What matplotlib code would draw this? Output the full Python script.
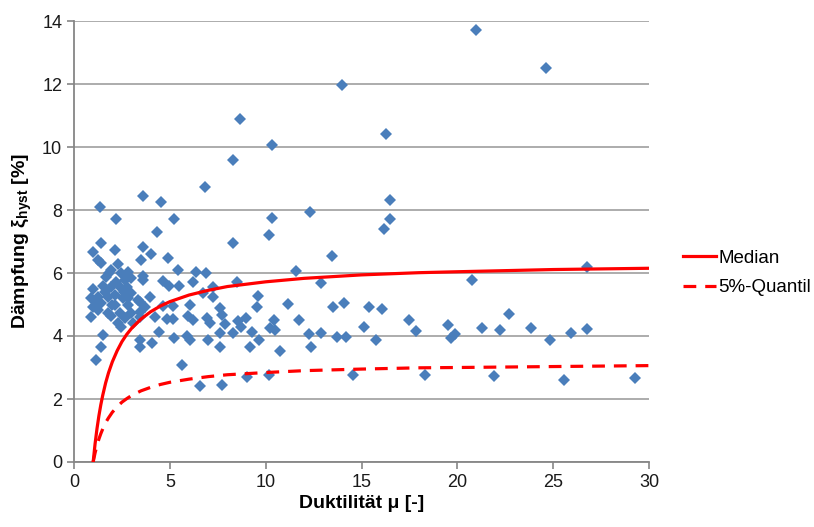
import numpy as np
import matplotlib
matplotlib.use("Agg")
import matplotlib.pyplot as plt

plt.rcParams['font.family'] = ['Liberation Sans', 'DejaVu Sans']
plt.rcParams['mathtext.fontset'] = 'custom'
plt.rcParams['mathtext.rm'] = 'Liberation Sans'
plt.rcParams['mathtext.bf'] = 'Liberation Sans:bold'

# scatter data: ductility mu, damping xi_hyst [%]
mu = [0.90, 0.90, 0.99, 0.99, 0.99, 1.16, 1.25, 1.25, 1.25, 1.36, 1.39, 1.43, 1.43, 1.43,
      1.51, 1.51, 1.69, 1.77, 1.77, 1.95, 1.95, 1.95, 2.12, 2.12, 2.16, 2.17, 2.30, 2.38,
      2.38, 2.47, 2.47, 2.56, 2.64, 2.64, 2.78, 2.82, 2.82, 2.99, 2.99, 2.99, 3.34, 3.42,
      3.42, 3.44, 3.44, 3.44, 3.52, 3.58, 3.58, 3.62, 3.62, 3.69,
      1.10, 1.60, 1.85, 2.00, 2.20, 2.30, 2.60, 2.80, 3.10,
      3.96, 4.00, 4.05, 4.23, 4.31, 4.45, 4.52, 4.66, 4.66, 4.84, 4.92, 4.96, 5.15, 5.18,
      5.22, 5.22, 5.44, 5.49, 5.63, 5.88, 5.96, 6.05, 6.05, 6.22, 6.22, 6.36, 6.57, 6.71,
      6.83, 6.89, 6.92, 7.00, 7.09, 7.27, 7.23, 7.62, 7.72, 7.62, 7.62, 7.70, 7.88,
      8.31, 8.31, 8.31, 8.49, 8.57, 8.68, 8.69, 8.96, 9.02, 9.18, 9.27, 9.53, 9.62, 9.67,
      10.17, 10.19, 10.22, 10.31, 10.31, 10.43, 10.49, 10.77, 11.18, 11.60, 11.73, 12.28,
      12.33, 12.36, 12.88, 12.88, 13.46, 13.49, 13.72, 13.96, 14.09, 14.17, 14.57, 15.11,
      15.38, 15.75, 16.09, 16.15, 16.30, 16.48, 16.50, 17.50, 17.82, 18.31, 19.49, 19.65,
      19.90, 20.76, 20.96, 21.30, 21.93, 22.24, 22.70, 23.86, 24.60, 24.85, 25.54, 25.94,
      26.74, 26.78, 29.28]
xi = [5.20, 4.61, 6.68, 5.48, 4.93, 3.24, 6.41, 5.25, 4.83, 8.10, 6.31, 6.94, 5.04, 3.66,
      5.59, 4.03, 5.86, 5.23, 4.72, 6.10, 5.57, 4.63, 5.30, 4.98, 6.73, 7.70, 6.29, 5.55,
      4.74, 5.99, 4.30, 5.20, 5.78, 4.56, 5.57, 6.04, 4.98, 5.83, 5.36, 4.72, 5.14, 4.77,
      3.66, 5.09, 4.61, 3.87, 6.42, 8.46, 5.78, 6.84, 5.90, 4.93,
      5.10, 5.40, 6.00, 5.00, 5.70, 4.40, 5.40, 5.20, 4.40,
      5.25, 6.60, 3.79, 4.61, 7.30, 4.14, 8.24, 5.75, 4.95, 4.53, 6.48, 5.59, 4.53, 4.95,
      7.70, 3.95, 6.10, 5.60, 3.08, 4.00, 4.65, 4.99, 3.87, 5.70, 4.51, 6.04, 2.41, 5.36,
      8.74, 6.01, 4.56, 3.87, 4.42, 5.57, 5.25, 4.90, 4.68, 4.10, 3.66, 2.46, 4.38,
      9.59, 6.94, 4.10, 5.70, 4.49, 10.88, 4.28, 4.56, 2.70, 3.65, 4.12, 4.92, 5.27, 3.87,
      2.76, 7.20, 4.24, 10.05, 7.76, 4.50, 4.19, 3.53, 5.01, 6.05, 4.52, 4.06,
      7.95, 3.66, 5.67, 4.09, 6.54, 4.91, 3.96, 11.96, 5.04, 3.97, 2.76, 4.30,
      4.91, 3.87, 4.86, 7.41, 10.42, 8.32, 7.71, 4.52, 4.15, 2.75, 4.34, 3.94,
      4.05, 5.78, 13.71, 4.24, 2.72, 4.19, 4.69, 4.24, 12.52, 3.87, 2.59, 4.08,
      6.20, 4.23, 2.66]

# curves
curve_mu = [1.0, 1.1, 1.2, 1.3, 1.4, 1.5, 1.65, 1.8, 2.0, 2.25, 2.5, 2.75, 3.0, 3.5, 4.0,
            4.5, 5.0, 6.0, 7.0, 8.0, 10.0, 12.0, 15.0, 18.0, 20.0, 25.0, 30.0]
median = [0.00, 0.58, 1.06, 1.47, 1.82, 2.12, 2.51, 2.83, 3.18, 3.53, 3.82, 4.05, 4.24,
          4.54, 4.77, 4.95, 5.09, 5.30, 5.45, 5.57, 5.72, 5.83, 5.94, 6.01, 6.04, 6.11, 6.15]
q05 = [0.00, 0.29, 0.53, 0.73, 0.90, 1.05, 1.25, 1.40, 1.58, 1.75, 1.90, 2.01, 2.11,
       2.26, 2.37, 2.46, 2.53, 2.63, 2.71, 2.77, 2.84, 2.90, 2.95, 2.99, 3.00, 3.03, 3.06]

fig = plt.figure(figsize=(8.14, 5.27), dpi=100)
ax = fig.add_axes([74 / 814, 65 / 527, 575 / 814, 441 / 527])

ax.plot(mu, xi, 'D', color='#4a7ebb', markersize=6.2, markeredgewidth=0, zorder=3)
l1, = ax.plot(curve_mu, median, '-', color='#ff0000', lw=2.3, zorder=4, label='Median')
l2, = ax.plot(curve_mu, q05, '--', color='#ff0000', lw=2.3, dashes=(4, 2.8), zorder=4,
              label='5%-Quantil')

ax.set_xlim(0, 30)
ax.set_ylim(0, 14)
ax.set_xticks(range(0, 31, 5))
ax.set_yticks(range(0, 15, 2))
ax.yaxis.grid(True, color='#a6a6a6', lw=1.3)
ax.set_axisbelow(True)
for s in ['top', 'right']:
    ax.spines[s].set_visible(False)
for s in ['left', 'bottom']:
    ax.spines[s].set_color('#868686')
    ax.spines[s].set_linewidth(1.3)
ax.tick_params(axis='both', colors='#868686', labelcolor='#1a1a1a', labelsize=13,
               length=5, width=1.2)

ax.set_xlabel('Duktilität μ [-]', fontsize=14, fontweight='bold', labelpad=3)
ax.set_ylabel(r'Dämpfung $\mathbf{\xi_{hyst}}$ [%]', fontsize=14, fontweight='bold',
              labelpad=6)

fig.legend(handles=[l1, l2], loc='center left', bbox_to_anchor=(666 / 814, 1 - 273 / 527),
           frameon=False, fontsize=13.5, handlelength=1.75, handletextpad=0.15,
           labelspacing=0.65)

fig.savefig('out.png', dpi=100)
